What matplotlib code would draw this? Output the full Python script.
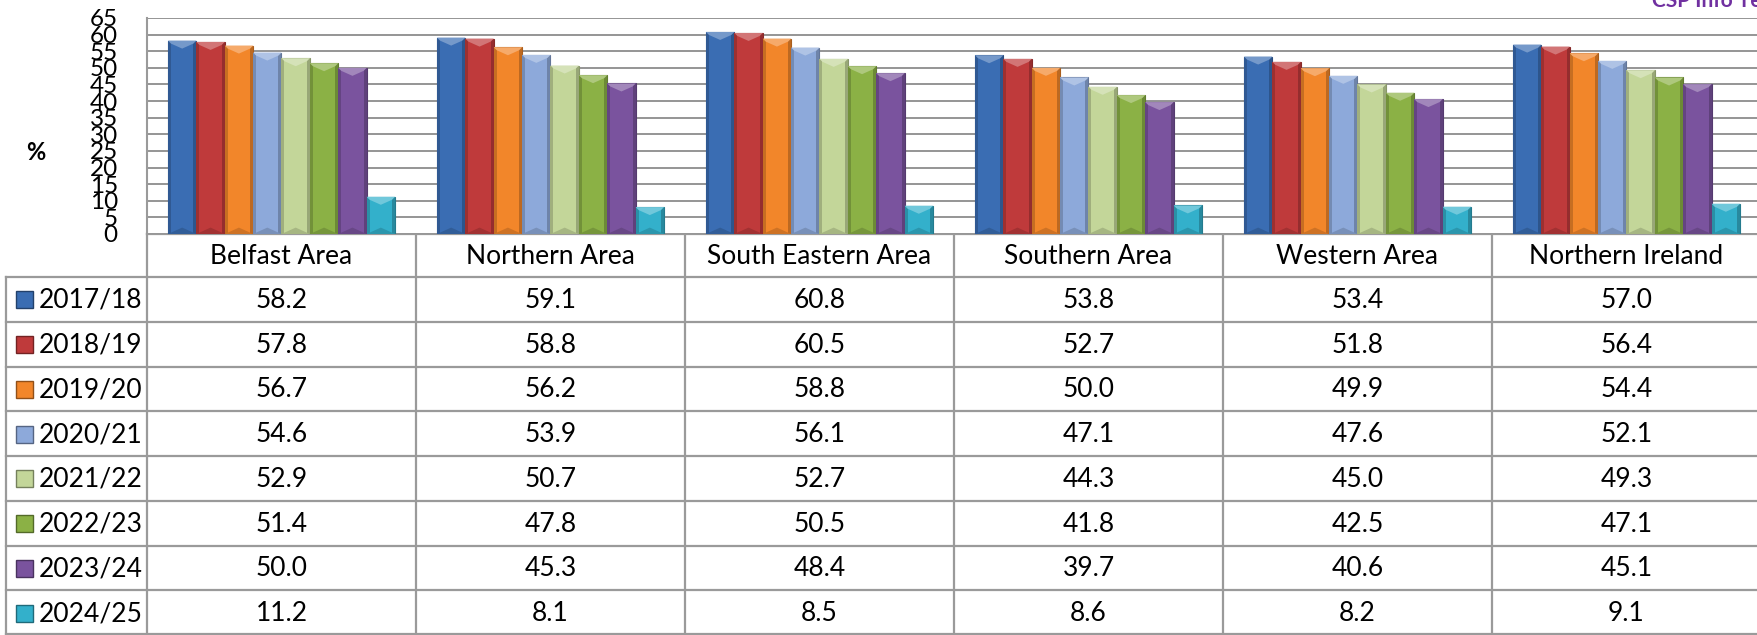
import numpy as np
import matplotlib.pyplot as plt
from matplotlib.patches import Rectangle, Polygon
from matplotlib.colors import to_rgb

plt.rcParams['font.family'] = ['Lato', 'DejaVu Sans']

areas = ['Belfast Area', 'Northern Area', 'South Eastern Area',
         'Southern Area', 'Western Area', 'Northern Ireland']
years = ['2017/18', '2018/19', '2019/20', '2020/21',
         '2021/22', '2022/23', '2023/24', '2024/25']
v_2017 = [58.2, 59.1, 60.8, 53.8, 53.4, 57.0]
v_2018 = [57.8, 58.8, 60.5, 52.7, 51.8, 56.4]
v_2019 = [56.7, 56.2, 58.8, 50.0, 49.9, 54.4]
v_2020 = [54.6, 53.9, 56.1, 47.1, 47.6, 52.1]
v_2021 = [52.9, 50.7, 52.7, 44.3, 45.0, 49.3]
v_2022 = [51.4, 47.8, 50.5, 41.8, 42.5, 47.1]
v_2023 = [50.0, 45.3, 48.4, 39.7, 40.6, 45.1]
v_2024 = [11.2, 8.1, 8.5, 8.6, 8.2, 9.1]
series = [v_2017, v_2018, v_2019, v_2020, v_2021, v_2022, v_2023, v_2024]
colors = ['#3A6DB3', '#BF3A3B', '#F2862A', '#8DA9DA',
          '#C3D699', '#8BB145', '#7A539E', '#33B0CB']


def shade(c, f):
    r = np.array(to_rgb(c))
    if f < 1:
        return tuple(r * f)
    return tuple(r + (1 - r) * (f - 1))


# figure layout in pixels
W, H = 1758, 635
plot_left, plot_top, plot_bottom = 147, 18, 234
col_w = 269
header_bottom = 277
row_h = (H - header_bottom) / len(years)
grid_col = '#8C8C8C'
line_col = '#9A9A9A'
fs = 19

fig = plt.figure(figsize=(W / 100, H / 100), dpi=100)
ax = fig.add_axes([plot_left / W, 1 - plot_bottom / H,
                   len(areas) * col_w / W, (plot_bottom - plot_top) / H])
ax.set_xlim(0, len(areas))
ax.set_ylim(0, 65)
ax.set_yticks(range(0, 70, 5))
ax.set_xticks([])
ax.yaxis.grid(True, color=grid_col, lw=1.3)
ax.set_axisbelow(True)
for s in ['top', 'right', 'bottom']:
    ax.spines[s].set_visible(False)
ax.spines['left'].set_color(line_col)
ax.spines['left'].set_linewidth(1.5)
ax.tick_params(axis='y', length=0, pad=21, labelsize=17.5)

# bars with a simple bevel look
bw = 0.844 / len(series)
px_x = len(areas) / (len(areas) * col_w)
px_y = 65 / (plot_bottom - plot_top)
x = np.arange(len(areas)) + 0.5
for i, (vals, c) in enumerate(zip(series, colors)):
    xs = x - 0.422 + i * bw
    ax.bar(xs, vals, width=bw, align='edge', color=c,
           edgecolor=shade(c, 0.7), lw=0.8, zorder=2)
    for x0, h in zip(xs, vals):
        x1 = x0 + bw
        xc = x0 + bw / 2
        side = 3 * px_x
        ax.add_patch(Rectangle((x0, 0), side, h, color=shade(c, 0.82), lw=0, zorder=3))
        ax.add_patch(Rectangle((x1 - side, 0), side, h, color=shade(c, 0.78), lw=0, zorder=3))
        d = min(8 * px_y, h / 2)
        ax.add_patch(Polygon([(x0, h), (x1, h), (x1 - side, h - 3 * px_y),
                              (xc, h - d), (x0 + side, h - 3 * px_y)],
                             closed=True, color=shade(c, 1.3), lw=0, zorder=3))
        ax.add_patch(Polygon([(x0, 0), (x1, 0), (xc, d * 0.8)],
                             closed=True, color=shade(c, 0.85), lw=0, zorder=3))

fig.text(36 / W, 1 - 153 / H, '%', fontsize=17, fontweight='bold',
         ha='center', va='center')
fig.text(1652 / W, 1 - 7 / H, 'CSP Info Team', fontsize=15, fontweight='bold',
         color='#7030A0', ha='left', va='baseline')

# data table under the chart
tax = fig.add_axes([0, 0, 1, 1], zorder=-1)
tax.set_xlim(0, W)
tax.set_ylim(H, 0)
tax.axis('off')
right = plot_left + len(areas) * col_w
tax.plot([plot_left, right], [plot_bottom, plot_bottom], color=line_col, lw=1.6)
for r in range(len(years) + 1):
    y = header_bottom + r * row_h
    y = min(y, H - 1)
    tax.plot([6, right], [y, y], color=line_col, lw=1.6)
tax.plot([6, 6], [header_bottom, H], color=line_col, lw=1.6)
for k in range(len(areas) + 1):
    xk = plot_left + k * col_w
    tax.plot([xk, xk], [plot_bottom, H], color=line_col, lw=1.6)

for k, name in enumerate(areas):
    tax.text(plot_left + (k + 0.5) * col_w, (plot_bottom + header_bottom) / 2 + 1,
             name, fontsize=fs, ha='center', va='center')

for r, (yr, vals, c) in enumerate(zip(years, series, colors)):
    yc = header_bottom + (r + 0.5) * row_h
    tax.add_patch(Rectangle((16, yc - 8), 17, 17, facecolor=c,
                            edgecolor=shade(c, 0.6), lw=1))
    tax.text(39, yc + 1, yr, fontsize=fs, ha='left', va='center')
    for k, v in enumerate(vals):
        tax.text(plot_left + (k + 0.5) * col_w, yc + 1, f'{v:.1f}',
                 fontsize=fs, ha='center', va='center')

fig.savefig('out.png', dpi=100)
